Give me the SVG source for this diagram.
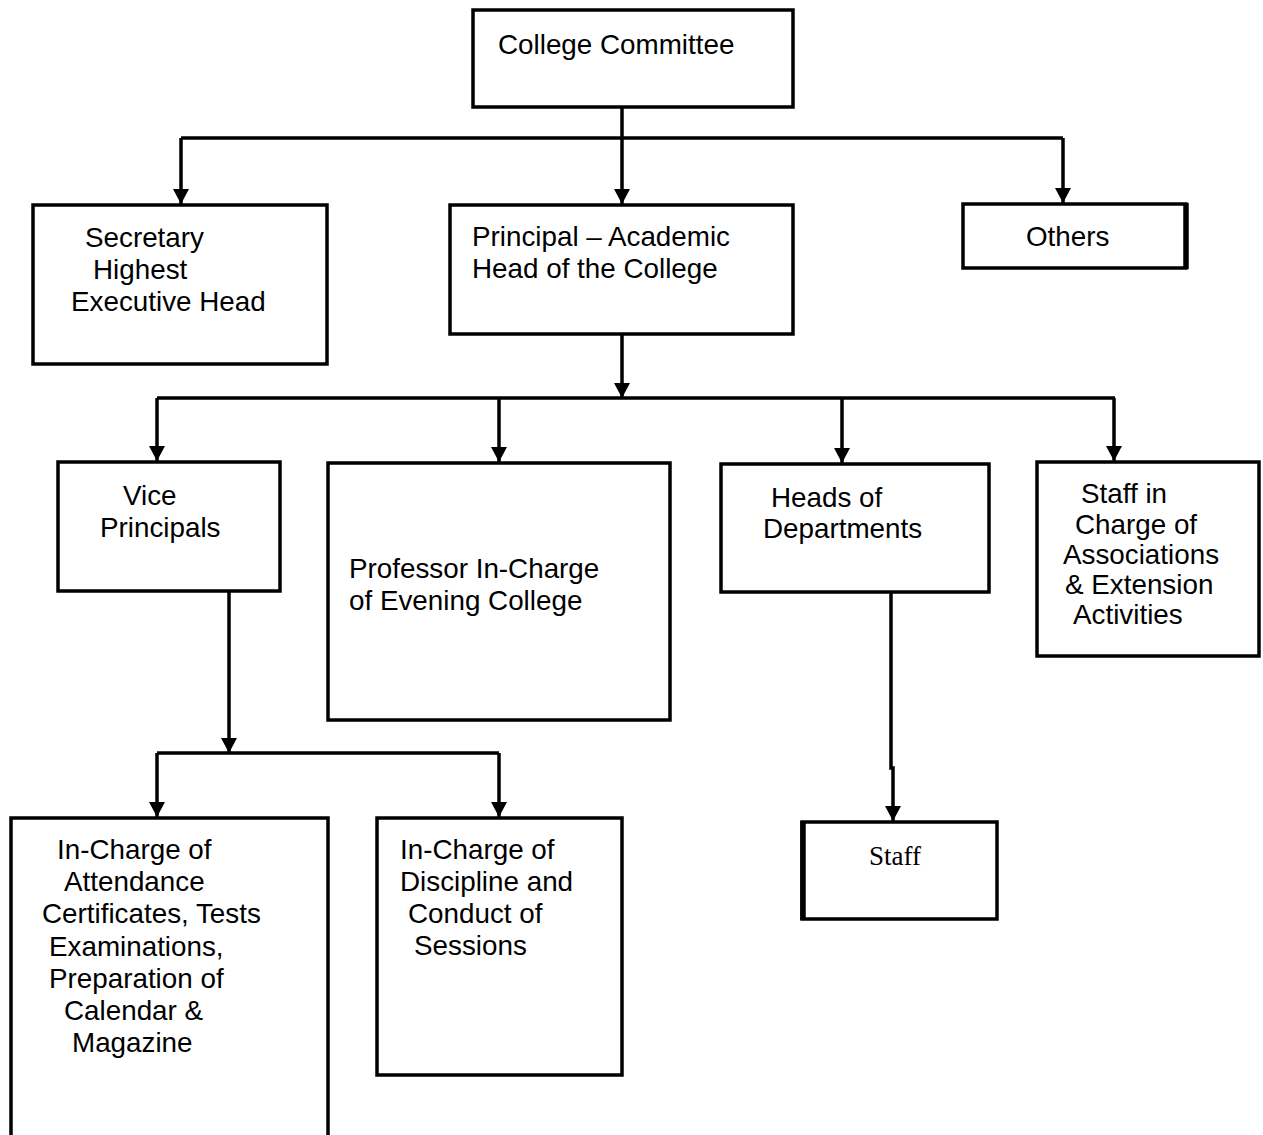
<svg xmlns="http://www.w3.org/2000/svg" width="1263" height="1135" viewBox="0 0 1263 1135">
<style>
.box{fill:#fff;stroke:#000;stroke-width:3.5}
.t{font-family:"Liberation Sans",Arial,sans-serif;font-size:27.8px;fill:#000}
.ts{font-family:"Liberation Serif","Times New Roman",serif;font-size:27px;fill:#000}
.c{fill:none;stroke:#000;stroke-width:3.5}
</style>
<defs>
<marker id="ah" markerUnits="userSpaceOnUse" markerWidth="16" markerHeight="16" refX="15" refY="8" orient="auto">
<path d="M0,0 L15,8 L0,16 z" fill="#000"/>
</marker>
</defs>
<rect width="1263" height="1135" fill="#fff"/>
<g id="connectors">
<path class="c" d="M622,107 V138"/>
<path class="c" d="M181,138 H1063"/>
<path class="c" d="M181,138 V204" marker-end="url(#ah)"/>
<path class="c" d="M622,138 V204" marker-end="url(#ah)"/>
<path class="c" d="M1063,138 V203" marker-end="url(#ah)"/>
<path class="c" d="M622,334 V398" marker-end="url(#ah)"/>
<path class="c" d="M157,398 H1115"/>
<path class="c" d="M157,398 V461" marker-end="url(#ah)"/>
<path class="c" d="M499,398 V462" marker-end="url(#ah)"/>
<path class="c" d="M842,398 V463" marker-end="url(#ah)"/>
<path class="c" d="M1114,398 V461" marker-end="url(#ah)"/>
<path class="c" d="M229,591 V753" marker-end="url(#ah)"/>
<path class="c" d="M157,753 H499"/>
<path class="c" d="M157,753 V817" marker-end="url(#ah)"/>
<path class="c" d="M499,753 V817" marker-end="url(#ah)"/>
<path class="c" d="M891,592 V768 H893 V821" marker-end="url(#ah)"/>
</g>
<g id="college-committee">
<rect class="box" x="473" y="10" width="320" height="97"/>
<text class="t" x="498" y="54">College Committee</text>
</g>
<g id="secretary">
<rect class="box" x="33" y="205" width="294" height="159"/>
<text class="t"><tspan x="85" y="247">Secretary</tspan><tspan x="93" y="279">Highest</tspan><tspan x="71" y="311">Executive Head</tspan></text>
</g>
<g id="principal">
<rect class="box" x="450" y="205" width="343" height="129"/>
<text class="t"><tspan x="472" y="246">Principal – Academic</tspan><tspan x="472" y="278">Head of the College</tspan></text>
</g>
<g id="others">
<rect class="box" x="963" y="204" width="223" height="64"/>
<line x1="1186" y1="203" x2="1186" y2="269" stroke="#000" stroke-width="5.5"/>
<text class="t" x="1026" y="246">Others</text>
</g>
<g id="vice-principals">
<rect class="box" x="58" y="462" width="222" height="129"/>
<text class="t"><tspan x="123" y="505">Vice</tspan><tspan x="100" y="537">Principals</tspan></text>
</g>
<g id="professor-evening">
<rect class="box" x="328" y="463" width="342" height="257"/>
<text class="t"><tspan x="349" y="578">Professor In-Charge</tspan><tspan x="349" y="610">of Evening College</tspan></text>
</g>
<g id="heads-of-departments">
<rect class="box" x="721" y="464" width="268" height="128"/>
<text class="t"><tspan x="771" y="507">Heads of</tspan><tspan x="763" y="538">Departments</tspan></text>
</g>
<g id="staff-associations">
<rect class="box" x="1037" y="462" width="222" height="194"/>
<text class="t"><tspan x="1081" y="503">Staff in</tspan><tspan x="1075" y="534">Charge of</tspan><tspan x="1063" y="564">Associations</tspan><tspan x="1065" y="594">&amp; Extension</tspan><tspan x="1073" y="624">Activities</tspan></text>
</g>
<g id="incharge-attendance">
<rect class="box" x="11" y="818" width="317" height="330"/>
<text class="t"><tspan x="57" y="859">In-Charge of</tspan><tspan x="64" y="891">Attendance</tspan><tspan x="42" y="923">Certificates, Tests</tspan><tspan x="49" y="956">Examinations,</tspan><tspan x="49" y="988">Preparation of</tspan><tspan x="64" y="1020">Calendar &amp;</tspan><tspan x="72" y="1052">Magazine</tspan></text>
</g>
<g id="incharge-discipline">
<rect class="box" x="377" y="818" width="245" height="257"/>
<text class="t"><tspan x="400" y="859">In-Charge of</tspan><tspan x="400" y="891">Discipline and</tspan><tspan x="408" y="923">Conduct of</tspan><tspan x="414" y="955">Sessions</tspan></text>
</g>
<g id="staff">
<rect class="box" x="802" y="822" width="195" height="97"/>
<line x1="803" y1="821" x2="803" y2="920" stroke="#000" stroke-width="5.5"/>
<text class="ts" x="869" y="865">Staff</text>
</g>
</svg>
